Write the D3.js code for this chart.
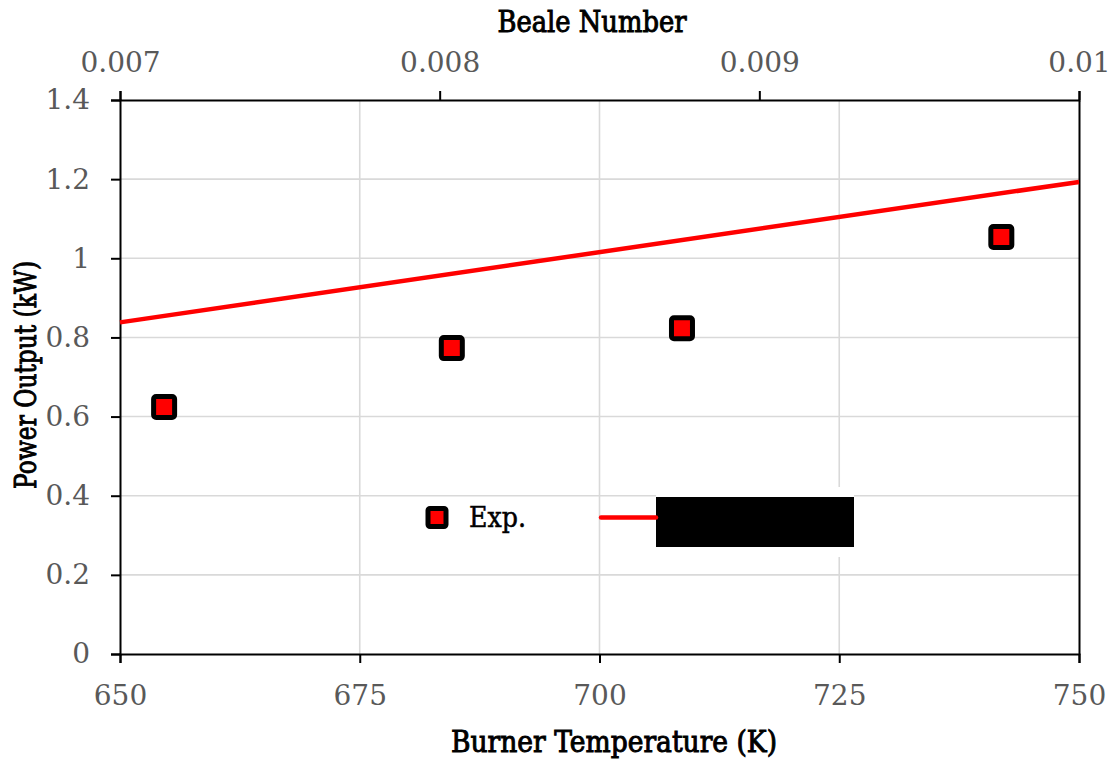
<!DOCTYPE html>
<html>
<head>
<meta charset="utf-8">
<script src="https://cdn.jsdelivr.net/npm/d3@7"></script>
<style>
  html, body { margin: 0; padding: 0; background: #fff; }
  svg { display: block; }
  .tick text { font-family: "DejaVu Serif", serif; font-size: 28px; fill: #595959; }
  .title { font-family: "DejaVu Serif", serif; font-size: 29px; fill: #000; stroke: #000; stroke-width: 1px; }
</style>
</head>
<body>
<svg id="chart" width="1113" height="759"></svg>
<script>
// Burner temperature (K) and measured power output (kW)
const expTemp = [654.6, 684.6, 708.6, 741.9];
const expPower = [0.624, 0.773, 0.823, 1.054];

// Model prediction (kW) at the ends of the temperature range
const modelTemp = [650, 750];
const modelPower = [0.838, 1.193];

// Tick values
const tempTicks = [650, 675, 700, 725, 750];
const bealeTicks = [0.007, 0.008, 0.009, 0.01];
const powerTicks = [0, 0.2, 0.4, 0.6, 0.8, 1, 1.2, 1.4];

const svg = d3.select("#chart");
const plotLeft = 120, plotRight = 1079, plotTop = 100, plotBottom = 654;

const x = d3.scaleLinear().domain([650, 750]).range([plotLeft, plotRight]);
const xTop = d3.scaleLinear().domain([0.007, 0.01]).range([plotLeft, plotRight]);
const y = d3.scaleLinear().domain([0, 1.4]).range([plotBottom, plotTop]);

// Gridlines
const grid = svg.append("g").attr("stroke", "#d9d9d9").attr("stroke-width", 1.6);
grid.selectAll("line.h").data(powerTicks.filter(v => v > 0 && v < 1.4)).join("line")
  .attr("class", "h")
  .attr("x1", plotLeft).attr("x2", plotRight)
  .attr("y1", d => y(d)).attr("y2", d => y(d));
grid.selectAll("line.v").data(tempTicks.filter(v => v > 650 && v < 750)).join("line")
  .attr("class", "v")
  .attr("y1", plotTop).attr("y2", plotBottom)
  .attr("x1", d => x(d)).attr("x2", d => x(d));

// Axes
function styleAxis(g) {
  g.select(".domain").attr("stroke", "#000").attr("stroke-width", 2);
  g.selectAll(".tick line").attr("stroke", "#000").attr("stroke-width", 2);
}
svg.append("g").attr("transform", `translate(0,${plotBottom})`)
  .call(d3.axisBottom(x).tickValues(tempTicks).tickSizeOuter(0).tickSize(9).tickPadding(22).tickFormat(d3.format("d")))
  .call(styleAxis);
svg.append("g").attr("transform", `translate(0,${plotTop})`)
  .call(d3.axisTop(xTop).tickValues(bealeTicks).tickSizeOuter(0).tickSize(9).tickPadding(19).tickFormat(d => String(+d.toFixed(3))))
  .call(styleAxis);
svg.append("g").attr("transform", `translate(${plotLeft},0)`)
  .call(d3.axisLeft(y).tickValues(powerTicks).tickSizeOuter(0).tickSize(9).tickPadding(21).tickFormat(d => String(+d.toFixed(1))))
  .call(styleAxis);
svg.append("g").attr("transform", `translate(${plotRight},0)`)
  .call(d3.axisRight(y).tickValues([]).tickSizeOuter(0))
  .call(styleAxis);

// Model line
svg.append("path")
  .datum(modelTemp.map((t, i) => [t, modelPower[i]]))
  .attr("fill", "none").attr("stroke", "#ff0000").attr("stroke-width", 4.5)
  .attr("d", d3.line().x(d => x(d[0])).y(d => y(d[1])));

// Experimental points
const ms = 21;
svg.append("g").selectAll("rect").data(expTemp.map((t, i) => [t, expPower[i]])).join("rect")
  .attr("x", d => x(d[0]) - ms / 2).attr("y", d => y(d[1]) - ms / 2)
  .attr("width", ms).attr("height", ms).attr("rx", 2.5)
  .attr("fill", "#ff0000").attr("stroke", "#000").attr("stroke-width", 5);

// Legend
const legend = svg.append("g");
legend.append("rect").attr("x", 656).attr("y", 487).attr("width", 198).attr("height", 70).attr("fill", "#fff");
legend.append("rect").attr("x", 656).attr("y", 497).attr("width", 198).attr("height", 50).attr("fill", "#000");
const lm = 18;
legend.append("rect").attr("x", 437 - lm / 2).attr("y", 517.5 - lm / 2).attr("width", lm).attr("height", lm)
  .attr("rx", 2).attr("fill", "#ff0000").attr("stroke", "#000").attr("stroke-width", 5);
legend.append("text").attr("class", "title").style("stroke-width", "0.5px").style("font-size", "27px")
  .attr("x", 469).attr("y", 527).attr("textLength", 57).attr("lengthAdjust", "spacingAndGlyphs").text("Exp.");
legend.append("line").attr("x1", 601).attr("x2", 656).attr("y1", 517.5).attr("y2", 517.5)
  .attr("stroke", "#ff0000").attr("stroke-width", 4.5).attr("stroke-linecap", "round");

// Axis titles
svg.append("text").attr("class", "title").attr("text-anchor", "middle")
  .attr("x", 592).attr("y", 32).attr("textLength", 189).attr("lengthAdjust", "spacingAndGlyphs")
  .text("Beale Number");
svg.append("text").attr("class", "title").attr("text-anchor", "middle")
  .attr("x", 614).attr("y", 752).attr("textLength", 326).attr("lengthAdjust", "spacingAndGlyphs")
  .text("Burner Temperature (K)");
svg.append("text").attr("class", "title").attr("text-anchor", "middle")
  .attr("transform", "translate(36,375) rotate(-90)").attr("textLength", 228).attr("lengthAdjust", "spacingAndGlyphs")
  .text("Power Output (kW)");
</script>
</body>
</html>
